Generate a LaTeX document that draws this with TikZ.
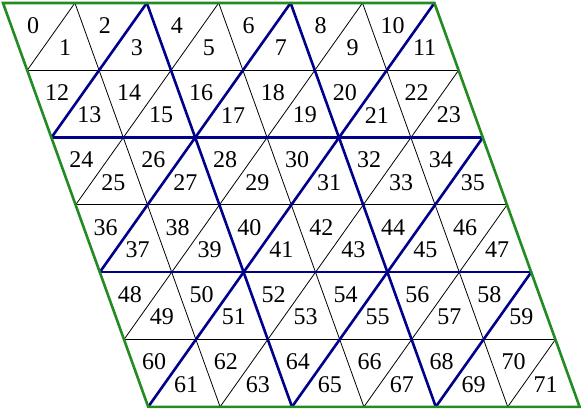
\documentclass[tikz,border=0pt]{standalone}
\usepackage{fontspec}
\setmainfont{Liberation Serif}
\definecolor{gridgreen}{RGB}{34,139,34}
\definecolor{gridnavy}{RGB}{0,0,139}

\begin{document}
\begin{tikzpicture}[
  x={(35.95pt,0pt)}, y={(12.1pt,-33.65pt)},
  every node/.style={font=\fontsize{12}{14}\selectfont,inner sep=0pt},
  fineline/.style={black,line width=0.4pt},
  coarseline/.style={gridnavy,line width=1.3pt,line cap=round},
  border/.style={gridgreen,line width=1.3pt,line join=miter},
]
  \useasboundingbox (-1.5pt,1.5pt) rectangle (289pt,-203.5pt);

  % fine triangle grid
  \foreach \r in {1,3,5} \draw[fineline] (0,\r) -- (6,\r);
  \foreach \i in {1,3,5} \draw[fineline] (\i,0) -- (\i,6);
  \foreach \r in {0,...,5} \foreach \i in {0,...,5}
    \draw[fineline] (\i+1,\r) -- (\i,\r+1);

  % coarse grid (blue)
  \foreach \r in {2,4} \draw[coarseline] (0,\r) -- (6,\r);
  \foreach \i in {2,4} \draw[coarseline] (\i,0) -- (\i,6);
  \draw[coarseline] (2,0) -- (0,2) (4,0) -- (0,4) (6,0) -- (0,6)
    (6,2) -- (2,6) (6,4) -- (4,6);

  % outer border
  \draw[border] (0,0) -- (6,0) -- (6,6) -- (0,6) -- cycle;

  % triangle numbers
  \foreach \r in {0,...,5} \foreach \i in {0,...,5} {
    \pgfmathtruncatemacro\ulnum{12*\r+2*\i}
    \pgfmathtruncatemacro\lrnum{\ulnum+1}
    \node[xshift=-1pt] (t\ulnum) at (\i+1/3,\r+1/3) {\ulnum};
    \node[xshift=-1pt] (t\lrnum) at (\i+2/3,\r+2/3) {\lrnum};
  }
\end{tikzpicture}
\end{document}
